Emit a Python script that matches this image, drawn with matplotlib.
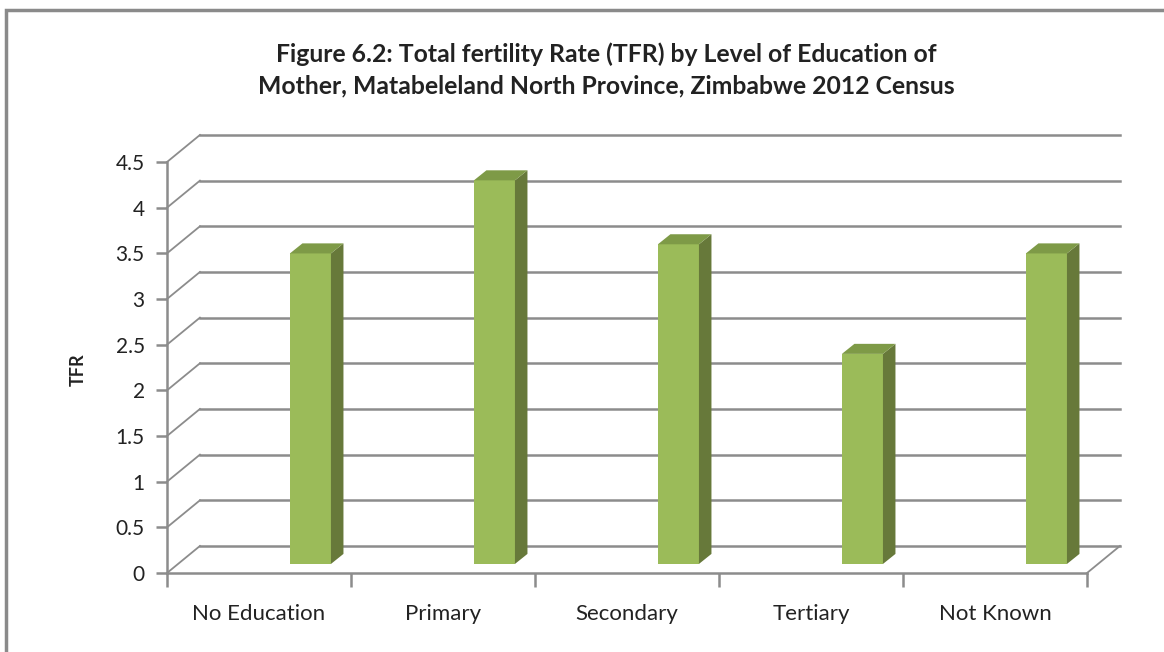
import matplotlib
matplotlib.use('Agg')
import matplotlib.pyplot as plt
from matplotlib.patches import Polygon, Rectangle

plt.rcParams['font.family'] = ['Lato', 'DejaVu Sans']

categories = ['No Education', 'Primary', 'Secondary', 'Tertiary', 'Not Known']
tfr = [3.4, 4.2, 3.5, 2.3, 3.4]
yticks = [0, 0.5, 1, 1.5, 2, 2.5, 3, 3.5, 4, 4.5]
ytick_labels = ['0', '0.5', '1', '1.5', '2', '2.5', '3', '3.5', '4', '4.5']

# fake 3d geometry, in data units
DX, DY = 0.179, 0.296        # back wall offset
BAR_OFF, BAR_W = 0.168, 0.223
BAR_BASE = 0.099
SDX, SDY = 0.068, 0.11       # bar depth

front = '#9BBB59'
side = '#67793A'
top = '#7E9A47'
grid_c = '#8C8C8C'

fig = plt.figure(figsize=(11.64, 6.52), dpi=100)
fig.patches.append(Rectangle((6 / 1164, -0.1), 1.2, 1 - 10 / 652 + 0.1,
                             transform=fig.transFigure, fill=False,
                             edgecolor='#8a8a8a', linewidth=2.5))

ax = fig.add_axes([167 / 1164, 79 / 652, 920 / 1164, 411 / 652])
ax.set_xlim(-0.5, 4.5)
ax.set_ylim(0, 4.5)
ax.patch.set_visible(False)

# back wall gridlines + diagonals on the left wall
for v in yticks:
    ax.plot([-0.5 + DX, 4.5 + DX], [v + DY, v + DY], color=grid_c, lw=1.8,
            clip_on=False, zorder=1)
    ax.plot([-0.5, -0.5 + DX], [v, v + DY], color=grid_c, lw=1.3,
            clip_on=False, zorder=1)
# floor right edge
ax.plot([4.5, 4.5 + DX], [0, DY], color=grid_c, lw=1.3, clip_on=False, zorder=1)

for i, v in enumerate(tfr):
    x0 = i + BAR_OFF
    x1 = x0 + BAR_W
    y0 = BAR_BASE
    y1 = BAR_BASE + v
    ax.add_patch(Polygon([(x0, y0), (x1, y0), (x1, y1), (x0, y1)],
                         closed=True, facecolor=front, edgecolor='none', zorder=3))
    ax.add_patch(Polygon([(x1, y0), (x1 + SDX, y0 + SDY), (x1 + SDX, y1 + SDY), (x1, y1)],
                         closed=True, facecolor=side, edgecolor='none', zorder=3))
    ax.add_patch(Polygon([(x0, y1), (x0 + SDX, y1 + SDY), (x1 + SDX, y1 + SDY), (x1, y1)],
                         closed=True, facecolor=top, edgecolor='none', zorder=3))

for s in ['top', 'right']:
    ax.spines[s].set_visible(False)
for s in ['left', 'bottom']:
    ax.spines[s].set_color(grid_c)
    ax.spines[s].set_linewidth(1.8)

ax.set_yticks(yticks)
ax.set_yticklabels(ytick_labels)
ax.tick_params(axis='y', direction='out', length=8, width=1.8, color=grid_c,
               labelsize=15, labelcolor='#222222', pad=8)

ax.set_xticks(range(len(categories)))
ax.set_xticklabels(categories)
ax.set_xticks([i - 0.5 for i in range(len(categories) + 1)], minor=True)
ax.tick_params(axis='x', which='major', length=0, labelsize=16,
               labelcolor='#222222', pad=22)
ax.tick_params(axis='x', which='minor', direction='out', length=10, width=1.8,
               color=grid_c)

fig.text(78 / 1164, 1 - 370 / 652, 'TFR', rotation=90, ha='center', va='center',
         fontsize=13, fontweight='bold', color='#222222')
fig.text(606 / 1164, 1 - 70 / 652,
         'Figure 6.2: Total fertility Rate (TFR) by Level of Education of\n'
         'Mother, Matabeleland North Province, Zimbabwe 2012 Census',
         ha='center', va='center', fontsize=17.8, fontweight='bold',
         color='#222222', linespacing=1.45)

fig.savefig('out.png', dpi=100)
